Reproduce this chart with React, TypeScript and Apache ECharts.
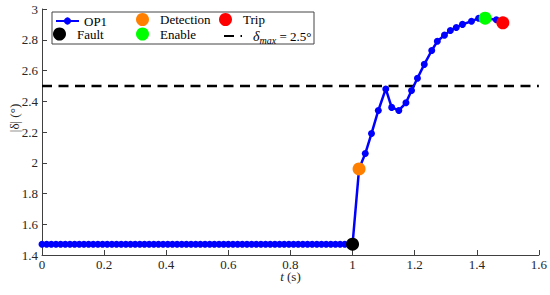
import React, { useEffect, useRef } from "react";
import * as echarts from "echarts";

// Time (s) of each OP1 sample
const op1T = [
  0, 0.015, 0.03, 0.045, 0.06, 0.075, 0.09, 0.105, 0.12, 0.135, 0.15, 0.165, 0.18, 0.195, 0.21, 0.225,
  0.24, 0.255, 0.27, 0.285, 0.3, 0.315, 0.33, 0.345, 0.36, 0.375, 0.39, 0.405, 0.42, 0.435, 0.45, 0.465,
  0.48, 0.495, 0.51, 0.525, 0.54, 0.555, 0.57, 0.585, 0.6, 0.615, 0.63, 0.645, 0.66, 0.675, 0.69, 0.705,
  0.72, 0.735, 0.75, 0.765, 0.78, 0.795, 0.81, 0.825, 0.84, 0.855, 0.87, 0.885, 0.9, 0.915, 0.93, 0.945,
  0.96, 0.975, 0.99, 1.0,
  1.021, 1.041, 1.061, 1.083, 1.107, 1.126, 1.149, 1.172, 1.19, 1.209, 1.231, 1.255, 1.273, 1.296,
  1.315, 1.334, 1.354, 1.383, 1.406, 1.427, 1.463, 1.484,
];
// |delta| (deg) of each OP1 sample
const op1Delta = [
  1.47, 1.47, 1.47, 1.47, 1.47, 1.47, 1.47, 1.47, 1.47, 1.47, 1.47, 1.47, 1.47, 1.47, 1.47, 1.47,
  1.47, 1.47, 1.47, 1.47, 1.47, 1.47, 1.47, 1.47, 1.47, 1.47, 1.47, 1.47, 1.47, 1.47, 1.47, 1.47,
  1.47, 1.47, 1.47, 1.47, 1.47, 1.47, 1.47, 1.47, 1.47, 1.47, 1.47, 1.47, 1.47, 1.47, 1.47, 1.47,
  1.47, 1.47, 1.47, 1.47, 1.47, 1.47, 1.47, 1.47, 1.47, 1.47, 1.47, 1.47, 1.47, 1.47, 1.47, 1.47,
  1.47, 1.47, 1.47, 1.47,
  1.96, 2.06, 2.19, 2.34, 2.48, 2.36, 2.34, 2.39, 2.47, 2.55, 2.64, 2.73, 2.79, 2.83,
  2.86, 2.88, 2.9, 2.92, 2.94, 2.94, 2.93, 2.91,
];

// Event markers
const eventNames = ["Fault", "Detection", "Enable", "Trip"];
const eventT = [1.0, 1.021, 1.427, 1.484];
const eventDelta = [1.47, 1.96, 2.94, 2.91];

const thresholdName = "δmax";
const thresholdValue = 2.5;

const xTicks = { min: 0, max: 1.6, interval: 0.2 };
const yTicks = { min: 1.4, max: 3, interval: 0.2 };

const FONT = "Liberation Serif";
const eventColors: Record<string, string> = {
  Fault: "#000000",
  Detection: "#FF8000",
  Enable: "#00FF00",
  Trip: "#FF0000",
};

export default function App() {
  const ref = useRef<HTMLDivElement>(null);
  useEffect(() => {
    if (!ref.current) return;
    const chart = echarts.init(ref.current, null, { renderer: "svg" });

    const axisCommon = {
      axisLine: { show: true, lineStyle: { color: "#404040", width: 1 } },
      axisTick: { show: true, inside: true, length: 5, lineStyle: { color: "#404040" } },
      splitLine: { show: false },
      axisLabel: { color: "#262626", fontFamily: FONT, fontSize: 13 },
    };

    const textBase = { fontFamily: FONT, fontSize: 13, color: "#000" };
    const mkLegend = (name: string, left: number, top: number, w: number, h: number, extra: any = {}) => ({
      data: [name],
      left,
      top,
      orient: "horizontal",
      padding: 0,
      itemWidth: w,
      itemHeight: h,
      selectedMode: false,
      z: 10,
      textStyle: { ...textBase, lineHeight: 12 },
      ...extra,
    });

    const option: any = {
      animation: false,
      textStyle: { fontFamily: FONT },
      grid: { left: 40.5, right: 10.5, top: 9, bottom: 40, containLabel: false },
      xAxis: {
        type: "value",
        ...xTicks,
        ...axisCommon,
        axisLabel: { ...axisCommon.axisLabel, margin: 3 },
        name: "{i|t} (s)",
        nameLocation: "middle",
        nameGap: 15,
        nameMoveOverlap: false,
        nameTextStyle: {
          ...textBase,
          color: "#262626",
          rich: { i: { fontFamily: FONT, fontSize: 13, fontStyle: "italic", color: "#262626" } },
        },
      },
      yAxis: {
        type: "value",
        ...yTicks,
        ...axisCommon,
        axisLabel: { ...axisCommon.axisLabel, margin: 4 },
        name: "|δ| (°)",
        nameLocation: "middle",
        nameGap: 21,
        nameMoveOverlap: false,
        nameTextStyle: { ...textBase, color: "#262626", padding: [0, 0, 0, 28] },
      },
      legend: [
        mkLegend("OP1", 55, 14.5, 23, 9),
        mkLegend("Fault", 53, 27.5, 25, 13),
        mkLegend("Detection", 136, 13, 25, 13),
        mkLegend("Enable", 136, 27.5, 25, 13),
        mkLegend("Trip", 219, 13, 25, 13),
        mkLegend(thresholdName, 223, 27, 18, 13, {
          itemStyle: { opacity: 0 },
          formatter: () => "{d|δ}{s|max}{n| = " + thresholdValue + "°}",
          textStyle: {
            ...textBase,
            rich: {
              d: { fontFamily: FONT, fontSize: 14, fontStyle: "italic", color: "#000", padding: [0, 0, 0, 6], lineHeight: 13 },
              s: { fontFamily: FONT, fontSize: 10, fontStyle: "italic", color: "#000", padding: [8, 0, 0, 0], lineHeight: 10 },
              n: { fontFamily: FONT, fontSize: 13, color: "#000", lineHeight: 13 },
            },
          },
        }),
      ],
      graphic: [
        {
          type: "rect",
          z: 5,
          shape: { x: 52, y: 12, width: 262, height: 32 },
          style: { fill: "#fff", stroke: "#444", lineWidth: 1 },
        },
      ],
      series: [
        {
          name: thresholdName,
          type: "line",
          data: [
            [xTicks.min, thresholdValue],
            [xTicks.max, thresholdValue],
          ],
          symbol: "none",
          z: 1,
          lineStyle: { color: "#000", width: 2.5, type: [10, 6.5] },
          itemStyle: { color: "#000" },
        },
        {
          name: "OP1",
          type: "line",
          data: op1T.map((t, i) => [t, op1Delta[i]]),
          symbol: "circle",
          symbolSize: 7,
          showSymbol: true,
          z: 2,
          lineStyle: { color: "#0000FF", width: 2.5 },
          itemStyle: { color: "#0000FF" },
        },
        ...eventNames.map((n, i) => ({
          name: n,
          type: "scatter",
          data: [[eventT[i], eventDelta[i]]],
          symbol: "circle",
          symbolSize: 13,
          z: 3,
          itemStyle: { color: eventColors[n], opacity: 1 },
        })),
      ],
    };
    chart.setOption(option);
    return () => chart.dispose();
  }, []);
  return (
    <div
      ref={ref}
      style={{ position: "absolute", left: 0, top: 0, width: 550, height: 295 }}
    />
  );
}
